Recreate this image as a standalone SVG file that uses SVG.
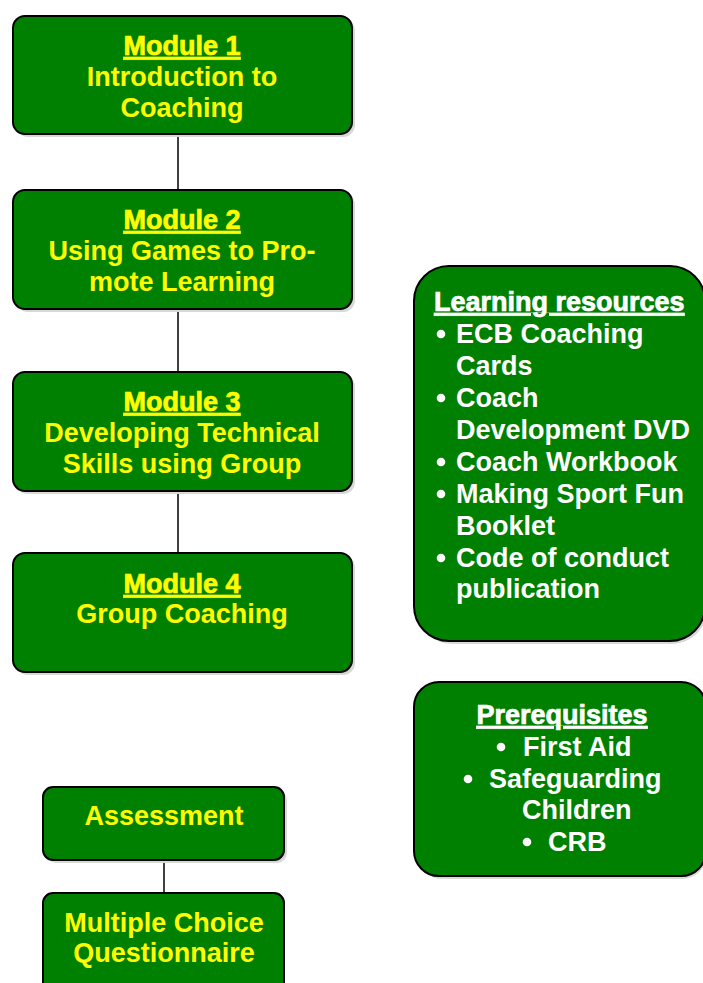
<svg xmlns="http://www.w3.org/2000/svg" width="703" height="983" viewBox="0 0 703 983">
<style>
.box{fill:#008000;stroke:#000;stroke-width:2}
.sh{fill:#d8d8d8}
.t{font-family:"Liberation Sans",Arial,sans-serif;font-weight:bold;font-size:27px}
.y{fill:#ffff00}
.w{fill:#ffffff}
.c{text-anchor:middle}
.h{text-decoration:underline;stroke-width:0.7px}
.hy{stroke:#ffff00}
.hw{stroke:#ffffff}
.ln{stroke:#000;stroke-width:1.5;fill:none}
</style>
<rect width="703" height="983" fill="#fff"/>
<g id="connectors">
<line class="ln" x1="178" y1="134" x2="178" y2="190"/>
<line class="ln" x1="178" y1="309" x2="178" y2="372"/>
<line class="ln" x1="178" y1="491" x2="178" y2="553"/>
<line class="ln" x1="164" y1="860" x2="164" y2="893"/>
</g>
<g id="module1">
<rect class="sh" x="16" y="19" width="339" height="118" rx="12"/>
<rect class="box" x="13" y="16" width="339" height="118" rx="12"/>
<text class="t y c h hy" x="182" y="55">Module 1</text>
<text class="t y c" x="182" y="86">Introduction to</text>
<text class="t y c" x="182" y="117">Coaching</text>
</g>
<g id="module2">
<rect class="sh" x="16" y="193" width="339" height="119" rx="12"/>
<rect class="box" x="13" y="190" width="339" height="119" rx="12"/>
<text class="t y c h hy" x="182" y="229">Module 2</text>
<text class="t y c" x="182" y="260">Using Games to Pro-</text>
<text class="t y c" x="182" y="291">mote Learning</text>
</g>
<g id="module3">
<rect class="sh" x="16" y="375" width="339" height="119" rx="12"/>
<rect class="box" x="13" y="372" width="339" height="119" rx="12"/>
<text class="t y c h hy" x="182" y="411">Module 3</text>
<text class="t y c" x="182" y="442">Developing Technical</text>
<text class="t y c" x="182" y="473">Skills using Group</text>
</g>
<g id="module4">
<rect class="sh" x="16" y="556" width="339" height="119" rx="12"/>
<rect class="box" x="13" y="553" width="339" height="119" rx="12"/>
<text class="t y c h hy" x="182" y="593">Module 4</text>
<text class="t y c" x="182" y="623">Group Coaching</text>
</g>
<g id="assessment">
<rect class="sh" x="46" y="790" width="241" height="73" rx="10"/>
<rect class="box" x="43" y="787" width="241" height="73" rx="10"/>
<text class="t y c" x="164" y="825">Assessment</text>
</g>
<g id="mcq">
<rect class="box" x="43" y="893" width="241" height="100" rx="10"/>
<text class="t y c" x="164" y="932">Multiple Choice</text>
<text class="t y c" x="164" y="962">Questionnaire</text>
</g>
<g id="learning-resources">
<rect class="sh" x="417" y="269" width="290" height="375" rx="35"/>
<rect class="box" x="414" y="266" width="291" height="375" rx="35"/>
<text class="t w h hw" x="434" y="311">Learning resources</text>
<circle class="w" cx="441" cy="334" r="4.3"/>
<text class="t w" x="456" y="343">ECB Coaching</text>
<text class="t w" x="456" y="375">Cards</text>
<circle class="w" cx="441" cy="398" r="4.3"/>
<text class="t w" x="456" y="407">Coach</text>
<text class="t w" x="456" y="439">Development DVD</text>
<circle class="w" cx="441" cy="462" r="4.3"/>
<text class="t w" x="456" y="471">Coach Workbook</text>
<circle class="w" cx="441" cy="494" r="4.3"/>
<text class="t w" x="456" y="503">Making Sport Fun</text>
<text class="t w" x="456" y="535">Booklet</text>
<circle class="w" cx="441" cy="558" r="4.3"/>
<text class="t w" x="456" y="567">Code of conduct</text>
<text class="t w" x="456" y="598">publication</text>
</g>
<g id="prerequisites">
<rect class="sh" x="417" y="685" width="290" height="194" rx="25"/>
<rect class="box" x="414" y="682" width="292" height="194" rx="25"/>
<text class="t w c h hw" x="562" y="724">Prerequisites</text>
<circle class="w" cx="501" cy="747" r="4.3"/>
<text class="t w" x="523" y="756">First Aid</text>
<circle class="w" cx="468" cy="779" r="4.3"/>
<text class="t w" x="489" y="788">Safeguarding</text>
<text class="t w" x="522" y="819">Children</text>
<circle class="w" cx="527" cy="842" r="4.3"/>
<text class="t w" x="548" y="851">CRB</text>
</g>
</svg>
